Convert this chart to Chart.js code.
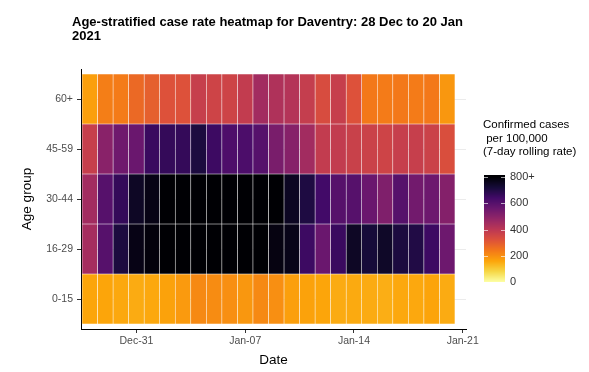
<!DOCTYPE html>
<html><head><meta charset="utf-8">
<script src="https://cdn.jsdelivr.net/npm/chart.js@4.4.0/dist/chart.umd.min.js"></script>
<style>
html,body{margin:0;padding:0;background:#fff;}
#wrap{position:relative;width:589px;height:372px;overflow:hidden;}
#c{position:absolute;left:0;top:0;}
#title{position:absolute;left:72px;top:15px;font:bold 13px "Liberation Sans",Arial,sans-serif;line-height:13.5px;color:#000;white-space:pre;}
</style></head><body>
<div id="wrap"><canvas id="c" width="589" height="372"></canvas><div id="title">Age-stratified case rate heatmap for Daventry: 28 Dec to 20 Jan
2021</div></div>
<script>
// ---- data ----
const dates = ['2020-12-28','2020-12-29','2020-12-30','2020-12-31','2021-01-01','2021-01-02','2021-01-03','2021-01-04',
  '2021-01-05','2021-01-06','2021-01-07','2021-01-08','2021-01-09','2021-01-10','2021-01-11','2021-01-12',
  '2021-01-13','2021-01-14','2021-01-15','2021-01-16','2021-01-17','2021-01-18','2021-01-19','2021-01-20'];
const ageGroups = ['60+','45-59','30-44','16-29','0-15'];
const rate60plus = [170,230,235,270,290,320,320,375,360,360,385,450,425,415,380,335,375,320,240,235,240,235,240,185];
const rate45to59 = [375,500,550,560,655,665,665,710,650,615,620,600,530,505,450,385,385,370,365,360,375,375,365,330];
const rate30to44 = [450,600,665,750,775,830,870,910,940,930,900,860,820,755,705,640,600,600,560,520,600,545,555,510];
const rate16to29 = [445,600,710,775,790,840,890,930,950,920,880,830,780,770,650,560,655,750,720,745,710,700,650,555];
const rate0to15  = [160,160,155,150,155,165,180,210,205,200,185,210,200,170,165,160,150,152,150,145,155,155,162,150];
const xTickDates = ['2020-12-31','2021-01-07','2021-01-14','2021-01-21'];
const xTickLabels = ['Dec-31','Jan-07','Jan-14','Jan-21'];
const legendBreaks = [0,200,400,600,800];
const legendLabels = ['0','200','400','600','800+'];
const legendTitle = ['Confirmed cases',' per 100,000','(7-day rolling rate)'];
const rateCap = 800;

const ratesByGroup = [rate60plus, rate45to59, rate30to44, rate16to29, rate0to15];

// ---- helpers ----
const DAY = 86400000;
const dayNum = s => (Date.parse(s) - Date.parse(dates[0])) / DAY;
const inferno = ['#000004','#160b39','#420a68','#6a176e','#932667','#bc3754','#dd513a','#f37819','#fca50a','#f6d746','#fcffa4'];
function hex2rgb(h){return [parseInt(h.slice(1,3),16),parseInt(h.slice(3,5),16),parseInt(h.slice(5,7),16)];}
function infernoAt(t){
  t = Math.max(0, Math.min(1, t));
  const p = t * 10, i = Math.min(9, Math.floor(p)), f = p - i;
  const a = hex2rgb(inferno[i]), b = hex2rgb(inferno[i+1]);
  return 'rgb(' + a.map((v,k)=>Math.round(v + (b[k]-v)*f)).join(',') + ')';
}
const colorFor = v => infernoAt(1 - Math.min(v, rateCap) / rateCap);

// ---- datasets: one per age group, floating bars spanning each row ----
const datasets = ageGroups.map((g, k) => ({
  label: g,
  data: dates.map(d => ({x: dayNum(d), y: [k - 0.5, k + 0.5]})),
  backgroundColor: ratesByGroup[k].map(colorFor),
  borderColor: 'rgba(255,255,255,0.3)',
  borderWidth: 0.6,
  borderSkipped: false,
  grouped: false,
  barPercentage: 1,
  categoryPercentage: 1
}));

const legendPlugin = {
  id: 'colorbarLegend',
  afterDraw(chart){
    const ctx = chart.ctx;
    ctx.save();
    ctx.fillStyle = '#000';
    ctx.font = '11.5px "Liberation Sans", Arial, sans-serif';
    ctx.textBaseline = 'middle';
    ctx.textAlign = 'left';
    legendTitle.forEach((t, i) => ctx.fillText(t, 483, 125 + i * 13.6));
    const x0 = 484, w = 21, yTop = 177, yBot = 282;
    const yOf = v => yBot - (v / rateCap) * (yBot - yTop);
    for (let y = yTop - 2; y < yBot; y++) {
      const v = (yBot - (y + 0.5)) / (yBot - yTop) * rateCap;
      ctx.fillStyle = colorFor(Math.max(0, v));
      ctx.fillRect(x0, y, w, 1);
    }
    ctx.strokeStyle = 'rgba(255,255,255,0.8)';
    ctx.lineWidth = 0.8;
    legendBreaks.forEach(b => {
      const y = Math.round(yOf(b)) + 0.5;
      ctx.beginPath();
      ctx.moveTo(x0, y); ctx.lineTo(x0 + 4, y);
      ctx.moveTo(x0 + w - 4, y); ctx.lineTo(x0 + w, y);
      ctx.stroke();
    });
    ctx.fillStyle = '#333';
    ctx.font = '11px "Liberation Sans", Arial, sans-serif';
    legendBreaks.forEach((b, i) => ctx.fillText(legendLabels[i], 510, yOf(b)));
    ctx.restore();
  }
};

const FONT = '"Liberation Sans", Arial, sans-serif';
new Chart(document.getElementById('c'), {
  type: 'bar',
  data: { datasets },
  options: {
    responsive: false,
    animation: false,
    devicePixelRatio: 1,
    layout: { padding: { left: 0, right: 123, top: 69, bottom: 0 } },
    plugins: { legend: { display: false }, title: { display: false }, tooltip: { enabled: false } },
    scales: {
      x: {
        type: 'linear',
        offset: false,
        bounds: 'data',
        min: dayNum(dates[0]) - 0.565,
        max: dayNum(dates[0]) + 24.21,
        afterBuildTicks: s => { s.ticks = xTickDates.map(d => ({ value: dayNum(d) })); },
        afterFit: s => { s.height = 43; },
        ticks: {
          autoSkip: false, maxRotation: 0, padding: 2,
          color: '#4d4d4d', font: { family: FONT, size: 10.5 },
          callback: (v, i) => xTickLabels[i]
        },
        grid: { display: true, offset: false, drawOnChartArea: false, drawTicks: true, tickLength: 4, tickColor: '#333', tickWidth: 1 },
        border: { display: true, color: '#000', width: 1 },
        title: { display: true, text: 'Date', color: '#000', font: { family: FONT, size: 13.5 }, padding: { top: 0, bottom: 4 } }
      },
      y: {
        type: 'linear',
        reverse: true,
        offset: false,
        min: -0.6,
        max: 4.6,
        afterBuildTicks: s => { s.ticks = ageGroups.map((g, i) => ({ value: i })); },
        afterFit: s => { s.width = 81; },
        ticks: {
          autoSkip: false, padding: 4,
          color: '#4d4d4d', font: { family: FONT, size: 10.5 },
          callback: (v, i) => ageGroups[i]
        },
        grid: { display: true, offset: false, color: '#ebebeb', lineWidth: 1, drawTicks: true, tickLength: 4, tickColor: '#333', tickWidth: 1 },
        border: { display: true, color: '#000', width: 1 },
        title: { display: true, text: 'Age group', color: '#000', font: { family: FONT, size: 13.5 }, padding: { top: 19, bottom: 0 } }
      }
    }
  },
  plugins: [legendPlugin]
});
</script>
</body></html>
